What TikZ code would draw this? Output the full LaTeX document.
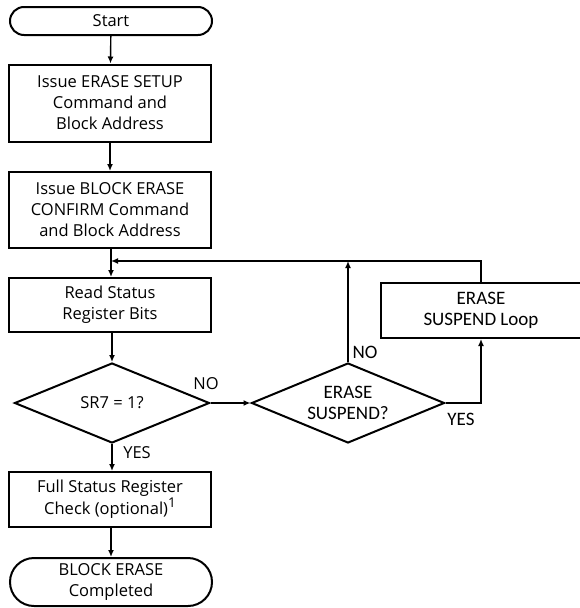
\documentclass[tikz,border=0pt]{standalone}
\usepackage{fontspec}
\setmainfont{Open Sans}
\newfontfamily\calib{Carlito}
\usetikzlibrary{shapes.geometric,shapes.misc,arrows.meta}
\newcommand{\supone}{\raisebox{0.45em}{\fontsize{13.5}{14}\selectfont 1}}
\begin{document}
\begin{tikzpicture}[x=1pt,y=-1pt,
  font=\fontsize{16.5}{21}\selectfont,
  cfont/.style={font=\calib\fontsize{19}{21.5}\selectfont},
  shp/.style={draw, line width=2pt, align=center, inner sep=0pt},
  boxn/.style={shp, rectangle, minimum width=202pt},
  term/.style={shp, rounded rectangle, minimum width=202pt},
  dia/.style={shp, diamond, minimum width=195pt, minimum height=80pt, aspect=2.4},
  arr/.style={line width=1.4pt, -{Latex[length=7pt,width=6pt]}},
  lab/.style={inner sep=0pt}]
\useasboundingbox (0,0) rectangle (579,608);
\node[term, minimum height=28pt] (start) at (111,21) {Start};
\node[boxn, minimum height=77pt] (b1) at (110,103) {Issue ERASE SETUP\\Command and\\Block Address};
\node[boxn, minimum height=76pt] (b2) at (110,210) {Issue BLOCK ERASE\\CONFIRM Command\\and Block Address};
\coordinate (m) at (111,261);
\node[boxn, minimum height=54pt] (b3) at (110,305) {Read Status\\Register Bits};
\node[dia] (d1) at (112,403) {SR7 = 1?};
\node[dia, minimum width=193pt, cfont] (d2) at (348,403) {ERASE\\SUSPEND?};
\node[boxn, minimum width=200pt, minimum height=55pt, cfont] (loop) at (481,310.5) {ERASE\\SUSPEND Loop};
\node[boxn, minimum height=55pt] (b4) at (110,499.5) {Full Status Register\\Check (optional)\supone};
\node[term, minimum height=48pt] (end) at (111,582) {BLOCK ERASE\\Completed};
\coordinate (top) at (d2.north |- m);
\draw[arr] (start) -- (b1);
\draw[arr] (b1) -- (b2);
\draw[arr] (b2.south -| m) -- (b3.north -| m);
\draw[arr] (d2.north) -- (top);
\draw[arr] (loop.north) |- (m);
\draw[arr] (b3.south -| d1.north) -- (d1.north);
\draw[arr] (d1.east) -- (d2.west);
\draw[arr] (d2.east) -| (loop.south);
\draw[arr] (d1.south) -- (d1.south |- b4.north);
\draw[arr] (b4.south -| end.north) -- (end.north);
\node[lab] (no1) at (206,384) {NO};
\node[lab] (yes1) at (137,453) {YES};
\node[lab, cfont] (no2) at (365,352) {NO};
\node[lab, cfont] (yes2) at (461,419) {YES};
\end{tikzpicture}
\end{document}
